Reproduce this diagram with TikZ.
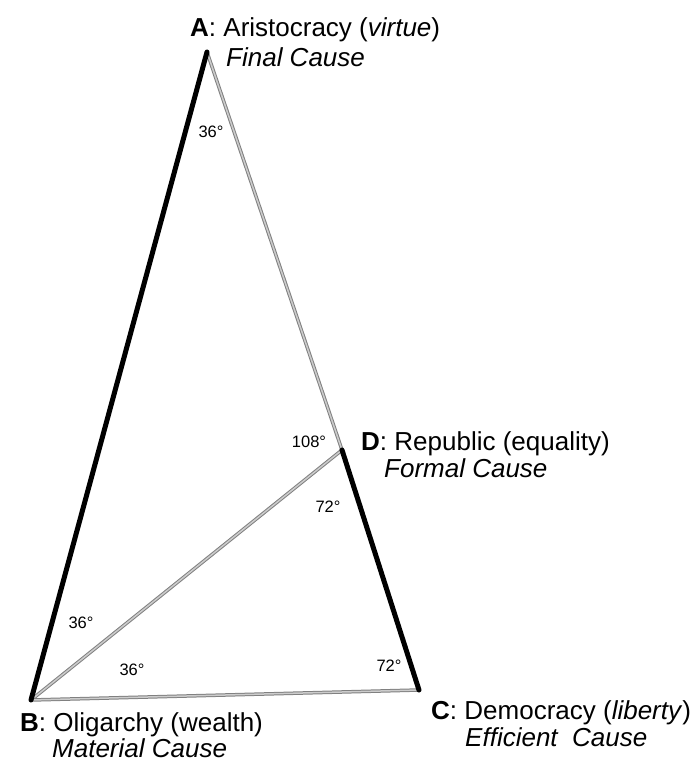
\documentclass[tikz,border=0pt]{standalone}
\usepackage{fontspec}
\setmainfont{Liberation Sans}

\begin{document}
\begin{tikzpicture}[x=1pt,y=-1pt,
    heavyside/.style={black,line width=5pt,line cap=round,line join=round},
    greyside/.style={draw=greyedge,double=greyfill,double distance=1.5pt,line width=1pt},
    vertexlabel/.style={anchor=base west,inner sep=0pt,font=\fontsize{26}{30}\selectfont},
    causelabel/.style={vertexlabel,font=\fontsize{26}{30}\selectfont\itshape},
    anglelabel/.style={inner sep=0pt,font=\fontsize{16.5}{19}\selectfont}]
  \colorlet{greyedge}{black!50}
  \colorlet{greyfill}{black!20}

  \useasboundingbox (0,0) rectangle (699,766);

  \coordinate (A) at (207,52);
  \coordinate (B) at (31,700);
  \coordinate (C) at (419,690);
  \coordinate (D) at (342,450);

  \draw[greyside] (A) -- (D);
  \draw[greyside] (B) -- (D);
  \draw[greyside] (B) -- (C);
  \draw[heavyside] (A) -- (B);
  \draw[heavyside] (D) -- (C);

  \node[vertexlabel] (labA) at (190,36) {\textbf{A}: Aristocracy (\textit{virtue})};
  \node[causelabel] (causeA) at (226,66) {Final Cause};
  \node[vertexlabel] (labD) at (361,450) {\textbf{D}: Republic (equality)};
  \node[causelabel] (causeD) at (384,477) {Formal Cause};
  \node[vertexlabel] (labB) at (20,731) {\textbf{B}: Oligarchy (wealth)};
  \node[causelabel] (causeB) at (52,757) {Material Cause};
  \node[vertexlabel] (labC) at (431,719) {\textbf{C}: Democracy (\textit{liberty})};
  \node[causelabel] (causeC) at (465,746) {Efficient\ \ Cause};

  \node[anglelabel] (angA) at (211,132) {36°};
  \node[anglelabel] (angDtop) at (309,442) {108°};
  \node[anglelabel] (angDlow) at (328,507) {72°};
  \node[anglelabel] (angBup) at (81,623) {36°};
  \node[anglelabel] (angBlow) at (132,670) {36°};
  \node[anglelabel] (angC) at (389,666) {72°};
\end{tikzpicture}
\end{document}
